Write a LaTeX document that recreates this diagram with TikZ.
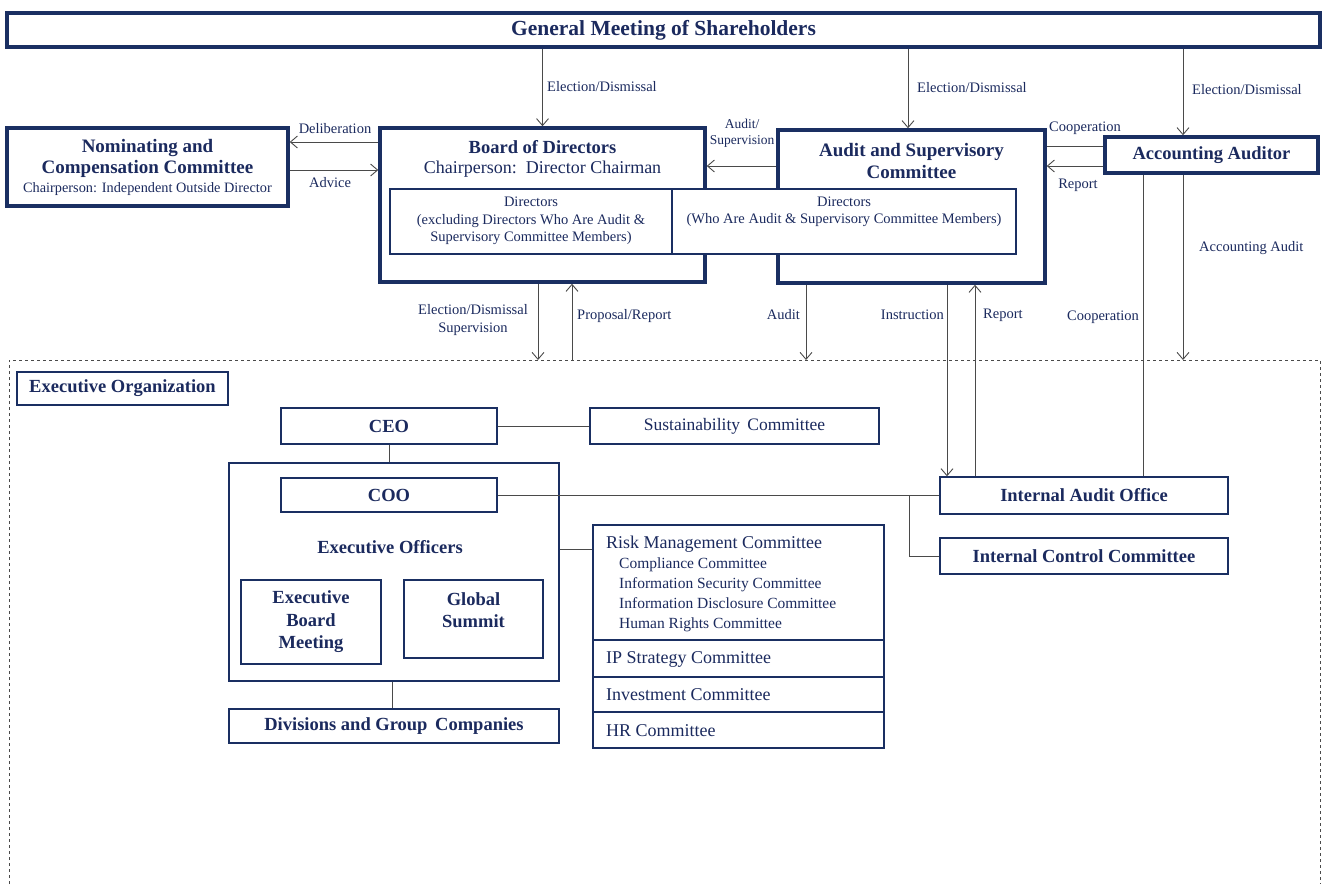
\documentclass[tikz,border=0pt]{standalone}
\usepackage{fontspec}
\setmainfont{Liberation Serif}
\usetikzlibrary{arrows.meta}
\definecolor{navy}{HTML}{1A2F62}
\definecolor{txt}{HTML}{1B2A5E}
\definecolor{ln}{HTML}{4A4A4A}
\newcommand{\fs}[1]{\fontsize{#1}{#1}\selectfont}
\begin{document}
\begin{tikzpicture}[x=1pt,y=-1pt,
 thickbox/.style={draw=navy,line width=3.5pt,inner sep=0pt,align=center,text=txt,fill=white},
 thinbox/.style={draw=navy,line width=1.4pt,inner sep=0pt,align=center,text=txt,fill=white},
 conn/.style={draw=ln,line width=0.9pt},
 arr/.style={conn,-{Straight Barb[length=7pt,width=12pt]}},
 lbl/.style={text=txt,inner sep=0pt,font=\fs{14.5},align=center},
 txtn/.style={text=txt,inner sep=0pt,align=center},
]
\useasboundingbox (0,0) rectangle (1327,884);
\fill[white] (0,0) rectangle (1327,884);

% dashed frame
\draw[draw=ln,line width=0.8pt,dashed] (9,884) -- (9,360) -- (1320,360) -- (1320,884);

% top part
\node[thickbox,minimum width=1313pt,minimum height=34pt,font=\bfseries\fs{21.5}] (gm) at (663.5,30) {General Meeting of Shareholders};
\node[thickbox,minimum width=281pt,minimum height=78pt] (nom) at (147.5,167) {};
\node[txtn,font=\bfseries\fs{19}] (nomt) at (147.5,158.5) {Nominating and\\[2pt]Compensation Committee};
\node[txtn,font=\fs{14.3}] (nomc) at (147.5,189) {Chairperson: Independent Outside Director};

\node[thickbox,minimum width=325pt,minimum height=154pt] (bod) at (542.5,205) {};
\node[txtn,font=\bfseries\fs{18.5}] (bodt) at (542.5,147) {Board of Directors};
\node[txtn,font=\fs{18}] (bodc) at (542.5,169) {Chairperson:\, Director Chairman};

\node[thickbox,minimum width=267pt,minimum height=153pt] (asc) at (911.5,206.5) {};
\node[txtn,font=\bfseries\fs{19}] (asct) at (911.5,161) {Audit and Supervisory\\[3pt]Committee};

\node[thickbox,minimum width=213pt,minimum height=36pt,font=\bfseries\fs{18.5}] (aa) at (1211.5,155) {Accounting Auditor};

\node[thinbox,minimum width=282pt,minimum height=65pt] (d1) at (531,221.5) {};
\node[txtn,font=\fs{14.5}] (d1t) at (531,221) {Directors\\[3pt](excluding Directors Who Are Audit \&\\[3pt]Supervisory Committee Members)};
\node[thinbox,minimum width=344pt,minimum height=65pt] (d2) at (844,221.5) {};
\node[txtn,font=\fs{14.5}] (d2t) at (844,212) {Directors\\[3pt](Who Are Audit \& Supervisory Committee Members)};

% top connectors
\draw[arr] (bod.north |- gm.south) -- (bod.north);
\draw[arr] (908,0 |- gm.south) -- (908,0 |- asc.north);
\draw[arr] (1183,0 |- gm.south) -- (1183,0 |- aa.north);
\draw[arr] (bod.west |- 0,142) -- (nom.east |- 0,142);
\draw[arr] (nom.east |- 0,170) -- (bod.west |- 0,170);
\draw[arr] (asc.west |- 0,166) -- (bod.east |- 0,166);
\draw[conn] (aa.west |- 0,146) -- (asc.east |- 0,146);
\draw[arr] (aa.west |- 0,166) -- (asc.east |- 0,166);

\node[lbl,anchor=west] (l1) at (547,87) {Election/Dismissal};
\node[lbl,anchor=west] (l2) at (917,88) {Election/Dismissal};
\node[lbl,anchor=west] (l3) at (1192,90) {Election/Dismissal};
\node[lbl] (l4) at (335,129) {Deliberation};
\node[lbl] (l5) at (330,183) {Advice};
\node[lbl,font=\fs{13.5},align=center] (l6) at (742,133) {Audit/\\[2pt]Supervision};
\node[lbl] (l7) at (1085,128) {Cooperation};
\node[lbl] (l8) at (1078,185) {Report};
\node[lbl,anchor=west] (l9) at (1199,248) {Accounting Audit};

% executive organization
\node[thinbox,minimum width=211pt,minimum height=33pt,font=\bfseries\fs{18.5}] (eorg) at (122.5,388.5) {Executive Organization};
\node[thinbox,minimum width=216pt,minimum height=36pt,font=\bfseries\fs{18.5}] (ceo) at (389,426) {CEO};
\node[thinbox,minimum width=289pt,minimum height=36pt,font=\fs{17.5}] (sust) at (734.5,426) {Sustainability\, Committee};
\node[thinbox,minimum width=330pt,minimum height=218pt] (eo) at (394,572) {};
\node[thinbox,minimum width=216pt,minimum height=34pt,font=\bfseries\fs{18.5}] (coo) at (389,495) {COO};
\node[txtn,font=\bfseries\fs{18.5}] (eot) at (390,547) {Executive Officers};
\node[thinbox,minimum width=140pt,minimum height=84pt,font=\bfseries\fs{18.5}] (ebm) at (311,622) {Executive\\[4pt]Board\\[4pt]Meeting};
\node[thinbox,minimum width=139pt,minimum height=78pt] (gs) at (473.5,619) {};
\node[txtn,font=\bfseries\fs{18.5},anchor=north] (gst) at (473.5,592) {Global\\[4pt]Summit};
\node[thinbox,minimum width=330pt,minimum height=34pt,font=\bfseries\fs{18.5}] (div) at (394,726) {Divisions and Group\, Companies};

\node[thinbox,minimum width=291pt,minimum height=115pt] (risk) at (738.5,582.5) {};
\node[txtn,anchor=west,font=\fs{18}] (riskt) at (606,544) {Risk Management Committee};
\node[txtn,anchor=north west,font=\fs{15.5},align=left] (riskl) at (619,558) {Compliance Committee\\[4.5pt]Information Security Committee\\[4.5pt]Information Disclosure Committee\\[4.5pt]Human Rights Committee};
\node[thinbox,minimum width=291pt,minimum height=37pt] (ip) at (738.5,658.5) {};
\node[txtn,anchor=west,font=\fs{18}] (ipt) at (606,659) {IP Strategy Committee};
\node[thinbox,minimum width=291pt,minimum height=35pt] (inv) at (738.5,694.5) {};
\node[txtn,anchor=west,font=\fs{18}] (invt) at (606,695) {Investment Committee};
\node[thinbox,minimum width=291pt,minimum height=36pt] (hr) at (738.5,730) {};
\node[txtn,anchor=west,font=\fs{18}] (hrt) at (606,731) {HR Committee};

\node[thinbox,minimum width=288pt,minimum height=37pt,font=\bfseries\fs{18.5}] (iao) at (1084,495.5) {Internal Audit Office};
\node[thinbox,minimum width=288pt,minimum height=36pt,font=\bfseries\fs{18.5}] (icc) at (1084,556) {Internal Control Committee};

% middle connectors
\draw[arr] (538,0 |- bod.south) -- (538,360);
\draw[arr] (572,360) -- (572,0 |- bod.south);
\draw[arr] (806,0 |- asc.south) -- (806,360);
\draw[arr] (947,0 |- asc.south) -- (947,0 |- iao.north);
\draw[arr] (975,0 |- iao.north) -- (975,0 |- asc.south);
\draw[conn] (1143,0 |- aa.south) -- (1143,0 |- iao.north);
\draw[arr] (1183,0 |- aa.south) -- (1183,360);

\node[lbl] (l10) at (473,320) {Election/Dismissal\\[3pt]Supervision};
\node[lbl,anchor=west] (l11) at (577,316) {Proposal/Report};
\node[lbl,anchor=east] (l12) at (800,315) {Audit};
\node[lbl,anchor=east] (l13) at (944,315) {Instruction};
\node[lbl,anchor=west] (l14) at (983,315) {Report};
\node[lbl,anchor=east] (l15) at (1139,317) {Cooperation};

% executive connectors
\draw[conn] (ceo.east) -- (sust.west);
\draw[conn] (ceo.south) -- (ceo.south |- eo.north);
\draw[conn] (coo.east) -- (iao.west |- coo.east);
\draw[conn] (909,0 |- coo.east) |- (icc.west);
\draw[conn] (eo.east |- 0,549) -- (risk.west |- 0,549);
\draw[conn] (392,0 |- eo.south) -- (392,0 |- div.north);
\end{tikzpicture}
\end{document}
